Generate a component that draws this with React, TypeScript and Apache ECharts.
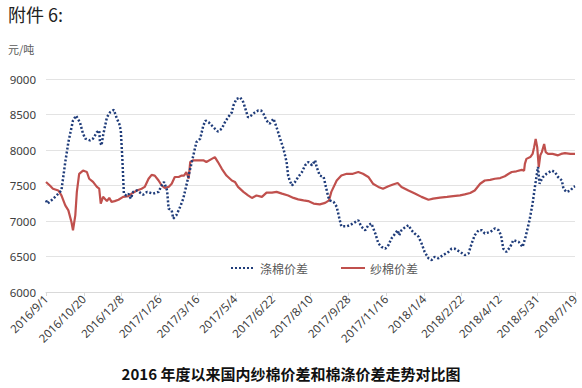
import React, { useEffect, useRef } from "react";
import * as echarts from "echarts";

// Day offsets from 2016/9/1
const startDate = Date.UTC(2016, 8, 1);
const axisMaxDay = 686;
const tickStepDays = 49;

const polyDays = [0, 2, 9, 16, 20, 25, 29, 35, 39, 44, 48, 51, 57, 61, 66, 69, 70, 72, 74, 79, 83, 88, 92, 95, 97, 99, 101, 104, 107, 110, 113, 118, 122, 126, 131, 139, 146, 149, 153, 157, 159, 163, 165, 169, 174, 178, 182, 187, 191, 195, 200, 204, 207, 211, 215, 219, 223, 228, 232, 236, 241, 243, 247, 252, 256, 260, 262, 266, 271, 275, 279, 282, 286, 290, 295, 299, 303, 308, 312, 314, 316, 319, 323, 327, 332, 336, 340, 345, 349, 351, 355, 360, 363, 366, 368, 373, 377, 381, 383, 390, 394, 401, 405, 409, 414, 418, 422, 427, 431, 435, 440, 444, 448, 453, 456, 458, 461, 466, 470, 474, 478, 483, 487, 491, 496, 500, 504, 509, 515, 522, 526, 530, 537, 543, 548, 552, 556, 561, 565, 569, 576, 582, 587, 590, 593, 597, 602, 606, 613, 618, 622, 627, 631, 634, 636, 638, 640, 644, 649, 656, 660, 664, 669, 671, 675, 680, 684, 686];
const polyValues = [7290, 7245, 7310, 7385, 7430, 7830, 8110, 8415, 8485, 8390, 8230, 8160, 8135, 8160, 8250, 8275, 8110, 8065, 8205, 8460, 8530, 8565, 8440, 8370, 8275, 7875, 7385, 7360, 7385, 7315, 7410, 7430, 7400, 7370, 7410, 7385, 7410, 7480, 7550, 7430, 7175, 7150, 7035, 7080, 7200, 7315, 7500, 7735, 7920, 8110, 8160, 8345, 8415, 8390, 8345, 8300, 8260, 8300, 8390, 8460, 8530, 8625, 8720, 8740, 8670, 8530, 8460, 8485, 8530, 8555, 8555, 8510, 8415, 8370, 8440, 8320, 8180, 8015, 7830, 7640, 7570, 7500, 7550, 7620, 7690, 7785, 7830, 7785, 7855, 7760, 7640, 7620, 7480, 7340, 7290, 7270, 7200, 7010, 6925, 6925, 6940, 6985, 7010, 6920, 6870, 6940, 6965, 6825, 6685, 6635, 6610, 6660, 6755, 6825, 6870, 6800, 6870, 6915, 6940, 6870, 6825, 6780, 6685, 6565, 6475, 6450, 6495, 6475, 6520, 6565, 6610, 6610, 6565, 6520, 6545, 6685, 6800, 6870, 6870, 6825, 6845, 6895, 6870, 6800, 6610, 6565, 6635, 6730, 6705, 6635, 6780, 7010, 7245, 7480, 7620, 7760, 7525, 7615, 7665, 7710, 7690, 7620, 7570, 7455, 7410, 7430, 7480, 7490];

const yarnDays = [0, 5, 9, 16, 20, 25, 29, 33, 35, 38, 40, 43, 48, 53, 56, 61, 66, 69, 71, 74, 79, 82, 85, 89, 94, 100, 107, 111, 118, 124, 128, 133, 137, 141, 146, 150, 154, 159, 163, 167, 172, 176, 179, 182, 185, 187, 191, 197, 204, 208, 215, 219, 223, 228, 234, 241, 245, 249, 256, 262, 267, 273, 280, 286, 293, 299, 306, 314, 321, 327, 334, 340, 347, 355, 362, 367, 370, 377, 383, 390, 398, 405, 411, 418, 424, 431, 437, 444, 450, 456, 461, 470, 479, 487, 496, 502, 511, 520, 528, 537, 543, 550, 556, 563, 569, 576, 582, 589, 595, 600, 604, 610, 617, 620, 621, 623, 628, 631, 633, 635, 637, 639, 641, 643, 646, 648, 651, 657, 664, 668, 673, 680, 684, 686];
const yarnValues = [7550, 7500, 7455, 7430, 7360, 7220, 7150, 6985, 6870, 7080, 7410, 7665, 7710, 7690, 7595, 7550, 7480, 7455, 7245, 7340, 7280, 7325, 7270, 7280, 7300, 7340, 7350, 7385, 7430, 7455, 7480, 7595, 7650, 7640, 7570, 7500, 7465, 7480, 7525, 7620, 7620, 7640, 7640, 7690, 7595, 7830, 7855, 7855, 7855, 7830, 7875, 7900, 7830, 7735, 7640, 7570, 7550, 7480, 7410, 7360, 7325, 7360, 7340, 7400, 7400, 7410, 7385, 7360, 7325, 7305, 7290, 7280, 7245, 7235, 7255, 7290, 7410, 7570, 7640, 7665, 7665, 7690, 7665, 7620, 7525, 7480, 7455, 7490, 7515, 7535, 7480, 7430, 7385, 7340, 7300, 7315, 7330, 7340, 7350, 7360, 7375, 7395, 7430, 7525, 7570, 7580, 7595, 7605, 7630, 7665, 7690, 7700, 7720, 7710, 7805, 7875, 7900, 7945, 8040, 8155, 8040, 7760, 7925, 7970, 8085, 7970, 7945, 7945, 7925, 7945, 7955, 7945, 7945, 7945];

const seriesNames = ["涤棉价差", "纱棉价差"];
const pageTitle = "附件 6:";
const unitLabel = "元/吨";
const chartTitle = "2016 年度以来国内纱棉价差和棉涤价差走势对比图";

function formatDay(v: number): string {
  const d = new Date(startDate + v * 86400000);
  return `${d.getUTCFullYear()}/${d.getUTCMonth() + 1}/${d.getUTCDate()}`;
}

export default function App() {
  const ref = useRef<HTMLDivElement>(null);
  useEffect(() => {
    document.body.style.margin = "0";
    if (!ref.current) return;
    const chart = echarts.init(ref.current, null, { renderer: "svg" });
    const font = "'Noto Sans', 'Noto Sans CJK SC', sans-serif";
    const cjk = "'Noto Sans CJK SC', sans-serif";
    chart.setOption({
      animation: false,
      backgroundColor: "#ffffff",
      textStyle: { fontFamily: font },
      title: [
        {
          text: pageTitle,
          left: 3,
          top: 0,
          textStyle: { fontSize: 18, fontWeight: "normal", color: "#222", fontFamily: cjk },
        },
        {
          text: unitLabel,
          left: 3,
          top: 38,
          textStyle: { fontSize: 11, fontWeight: "normal", color: "#595959", fontFamily: cjk },
        },
        {
          text: chartTitle,
          left: "center",
          top: 362,
          padding: 2,
          textStyle: { fontSize: 15, lineHeight: 18, fontWeight: "bold", color: "#111", fontFamily: cjk },
        },
      ],
      legend: {
        left: 225,
        top: 257,
        itemGap: 32,
        itemWidth: 24,
        itemHeight: 10,
        itemStyle: { opacity: 0 },
        textStyle: { fontSize: 12, color: "#595959", fontFamily: cjk },
        data: seriesNames,
      },
      grid: { left: 46, right: 7, top: 79, bottom: 96, containLabel: false },
      xAxis: {
        type: "value",
        min: 0,
        max: axisMaxDay,
        interval: tickStepDays,
        axisLine: { show: true, lineStyle: { color: "#d9d9d9", width: 1 } },
        axisTick: { show: true, length: 4, lineStyle: { color: "#d9d9d9" } },
        splitLine: { show: false },
        axisLabel: {
          rotate: 45,
          margin: 5,
          fontSize: 11.5,
          color: "#404040",
          formatter: (v: number) => formatDay(v),
        },
      },
      yAxis: {
        type: "value",
        min: 6000,
        max: 9000,
        interval: 500,
        axisLine: { show: false },
        axisTick: { show: false },
        splitLine: { lineStyle: { color: "#e3e3e3", width: 1 } },
        axisLabel: { fontSize: 11.5, color: "#404040", margin: 10, formatter: (v: number) => String(v) },
      },
      series: [
        {
          name: seriesNames[0],
          type: "line",
          showSymbol: false,
          symbol: "none",
          data: polyDays.map((d, i) => [d, polyValues[i]]),
          lineStyle: { color: "#1f3c7a", width: 2.5, type: [2, 2] },
          itemStyle: { color: "#1f3c7a" },
          z: 3,
        },
        {
          name: seriesNames[1],
          type: "line",
          showSymbol: false,
          symbol: "none",
          data: yarnDays.map((d, i) => [d, yarnValues[i]]),
          lineStyle: { color: "#c0504d", width: 2.2 },
          itemStyle: { color: "#c0504d" },
          z: 2,
        },
      ],
    });
    return () => chart.dispose();
  }, []);
  return <div ref={ref} style={{ width: 582, height: 388 }} />;
}
